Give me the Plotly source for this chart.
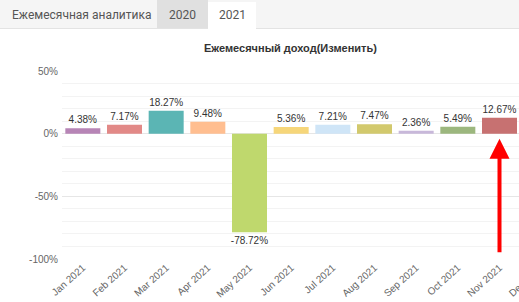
import plotly.graph_objects as go

months = ["Jan 2021", "Feb 2021", "Mar 2021", "Apr 2021", "May 2021", "Jun 2021",
          "Jul 2021", "Aug 2021", "Sep 2021", "Oct 2021", "Nov 2021", "Dec 2021"]
values = [4.38, 7.17, 18.27, 9.48, -78.72, 5.36, 7.21, 7.47, 2.36, 5.49, 12.67, None]
labels = ["4.38%", "7.17%", "18.27%", "9.48%", "-78.72%", "5.36%", "7.21%",
          "7.47%", "2.36%", "5.49%", "12.67%", ""]
colors = ["#b785b6", "#e28987", "#5bb5b4", "#ffbe90", "#bfd86d", "#f6d67a",
          "#cfe5f7", "#d2c96d", "#c8b8da", "#9cb77e", "#c77171", "#cccccc"]
ytick_vals = [50, 0, -50, -100]
ytick_text = ["50%", "0%", "-50%", "-100%"]
title_text = "Ежемесячный доход(Изменить)"
tab_main = "Ежемесячная аналитика"
tab_years = ["2020", "2021"]

W, H = 580, 302
L, R, T, B = 62, 18, 71, 43
PW, PH = W - L - R, H - T - B


def xp(px):
    return (px - L) / PW


def yp(py):
    return (H - B - py) / PH


fig = go.Figure()
fig.add_trace(go.Bar(
    x=months, y=values, text=labels, textposition="outside",
    marker=dict(color=colors, line=dict(width=0)),
    textfont=dict(family="Liberation Sans", size=10, color="#333333"),
    constraintext="none",
    cliponaxis=False, hoverinfo="skip",
))

shapes = [
    dict(type="rect", xref="paper", yref="paper", x0=xp(-5), x1=xp(W + 5),
         y0=yp(28.5), y1=yp(-5), fillcolor="#f5f5f5", line=dict(width=0), layer="above"),
    dict(type="line", xref="paper", yref="paper", x0=xp(-5), x1=xp(W + 5),
         y0=yp(28.5), y1=yp(28.5), line=dict(color="#e3e3e3", width=1), layer="above"),
    dict(type="rect", xref="paper", yref="paper", x0=xp(157), x1=xp(208),
         y0=yp(28), y1=yp(-5), fillcolor="#e0e0e0", line=dict(width=0), layer="above"),
    dict(type="rect", xref="paper", yref="paper", x0=xp(208), x1=xp(256),
         y0=yp(29.5), y1=yp(2), fillcolor="#ffffff", line=dict(width=0), layer="above"),
]

annotations = [
    dict(text=tab_main, xref="paper", yref="paper", x=xp(10), y=yp(15),
         xanchor="left", yanchor="middle", showarrow=False,
         font=dict(family="Roboto", size=12, color="#555555")),
    dict(text=tab_years[0], xref="paper", yref="paper", x=xp(182), y=yp(15),
         xanchor="center", yanchor="middle", showarrow=False,
         font=dict(family="Roboto", size=12, color="#555555")),
    dict(text=tab_years[1], xref="paper", yref="paper", x=xp(232), y=yp(15),
         xanchor="center", yanchor="middle", showarrow=False,
         font=dict(family="Roboto", size=12, color="#555555")),
    dict(text="<b>" + title_text + "</b>", xref="paper", yref="paper", x=xp(290), y=yp(48),
         xanchor="center", yanchor="middle", showarrow=False,
         font=dict(family="Liberation Sans", size=11, color="#333333")),
    dict(text="", x="Nov 2021", y=-4, xref="x", yref="y", showarrow=True,
         arrowhead=2, arrowsize=1, arrowwidth=4, arrowcolor="#ff0000",
         ax=0, ay=115, standoff=0),
]

fig.update_layout(
    width=W, height=H, margin=dict(l=L, r=R, t=T, b=B, autoexpand=False),
    paper_bgcolor="#ffffff", plot_bgcolor="#ffffff",
    showlegend=False, bargap=0.16,
    shapes=shapes, annotations=annotations,
    xaxis=dict(type="category", range=[-0.5, 11.5], tickangle=-42, automargin=False,
               showgrid=False, showline=False, ticks="", zeroline=False,
               tickfont=dict(family="Liberation Sans", size=10, color="#666666")),
    yaxis=dict(range=[-100, 50], tickmode="array", tickvals=ytick_vals, ticktext=ytick_text,
               automargin=False, ticklabelstandoff=3,
               showgrid=True, gridcolor="#e6e6e6", gridwidth=1, zeroline=True,
               zerolinecolor="#e6e6e6", zerolinewidth=1, showline=False, ticks="",
               tickfont=dict(family="Liberation Sans", size=10, color="#666666"),
               minor=dict(tickmode="linear", tick0=0, dtick=10, showgrid=True,
                          gridcolor="#f3f3f3", gridwidth=1, ticks="")),
)

fig.write_html("out.html", config={"displayModeBar": False, "staticPlot": True},
               post_script="document.documentElement.style.overflow='hidden';"
                           "document.body.style.overflow='hidden';"
                           "document.body.style.margin='0';")
